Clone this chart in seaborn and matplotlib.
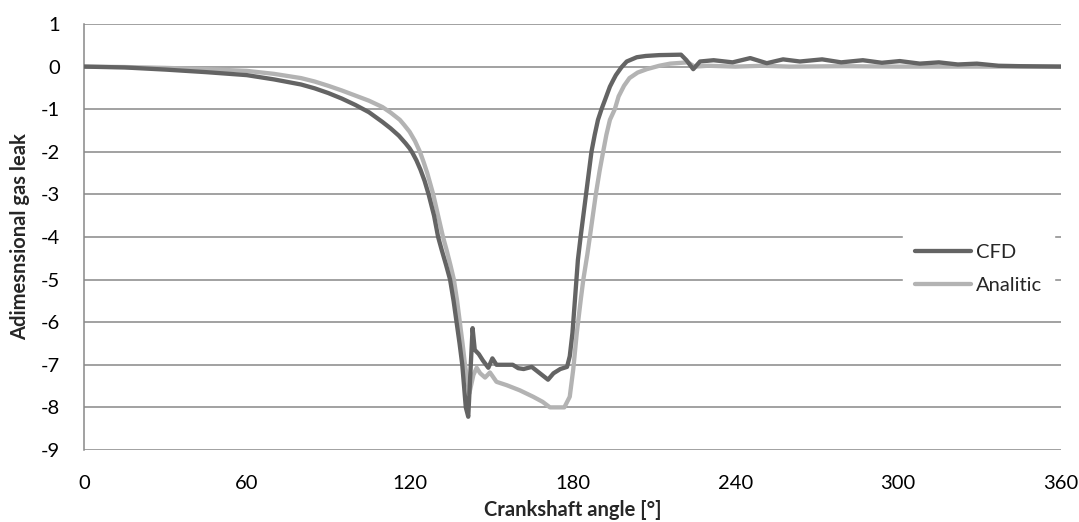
import pandas as pd
import matplotlib.pyplot as plt
import seaborn as sns

# 读图估计的数据
cfd_angle = [0, 15, 30, 45, 60, 70, 80, 85, 90, 95, 100, 105, 110, 113, 116, 118.5, 120,
             121, 122.5, 124, 125.5, 127, 128, 129, 130.5, 131.8, 133.4, 134.9, 136.2,
             137.3, 138.4, 139.4, 140.7, 141.6, 143.2, 144, 145.5, 147, 149, 150.5, 152,
             155, 158, 160, 162, 165, 168, 171, 173, 175.5, 178, 179, 180, 181, 182, 183,
             184, 185, 186, 187, 188.2, 189.4, 190.7, 192, 193.8, 195, 196, 198, 200,
             203.7, 207, 212, 220, 222, 224.5, 227, 232, 239, 245.5, 251.6, 257.6, 263.8,
             272, 279, 287, 294, 300.6, 308, 315, 322, 329, 337, 345, 360]
cfd_leak = [0, -0.02, -0.07, -0.13, -0.2, -0.3, -0.42, -0.51, -0.62, -0.75, -0.9, -1.07,
            -1.3, -1.45, -1.62, -1.8, -1.92, -2.02, -2.2, -2.42, -2.68, -3.0, -3.25, -3.5,
            -4.0, -4.3, -4.65, -5.0, -5.5, -6.0, -6.5, -7.0, -8.0, -8.22, -6.14, -6.65,
            -6.75, -6.9, -7.07, -6.85, -7.0, -7.0, -7.0, -7.08, -7.1, -7.05, -7.2, -7.35,
            -7.2, -7.1, -7.05, -6.8, -6.25, -5.4, -4.54, -4.0, -3.5, -3.0, -2.5, -2.0,
            -1.6, -1.25, -1.0, -0.78, -0.47, -0.32, -0.2, -0.02, 0.12, 0.22, 0.25, 0.27,
            0.28, 0.15, -0.06, 0.12, 0.15, 0.1, 0.2, 0.08, 0.17, 0.12, 0.17, 0.1, 0.15,
            0.09, 0.13, 0.07, 0.1, 0.05, 0.07, 0.02, 0.01, 0.0]

an_angle = [0, 15, 30, 45, 60, 70, 80, 85, 90, 95, 100, 105, 110, 113, 116.4, 118, 120,
            122, 123.8, 125.2, 126.5, 127.6, 128.7, 130.5, 132.3, 133.6, 135, 136.3, 137.5,
            138.5, 139.5, 140.4, 142, 143.5, 144.7, 146, 147.8, 149.6, 152, 155.8, 160.6,
            165.5, 169, 171.7, 177, 179, 180.3, 181.6, 183, 184, 185.5, 186.4, 187.5,
            188.6, 190, 191.3, 192.5, 193.8, 195.6, 197, 199, 201, 204, 207.4, 212, 216,
            222.5, 225, 230, 240, 250, 260, 280, 300, 330, 360]
an_leak = [0, -0.01, -0.03, -0.06, -0.1, -0.17, -0.27, -0.35, -0.45, -0.56, -0.68, -0.8,
           -0.95, -1.08, -1.25, -1.37, -1.53, -1.75, -2.0, -2.25, -2.5, -2.75, -3.0, -3.5,
           -4.0, -4.3, -4.65, -5.0, -5.5, -6.0, -6.5, -7.0, -7.67, -7.24, -7.07, -7.2,
           -7.3, -7.18, -7.4, -7.48, -7.6, -7.75, -7.87, -8.0, -8.0, -7.75, -7.1, -6.25,
           -5.5, -5.0, -4.4, -4.0, -3.5, -3.0, -2.45, -2.0, -1.6, -1.25, -1.0, -0.7,
           -0.45, -0.27, -0.14, -0.06, 0.02, 0.07, 0.1, 0.0, 0.02, 0.0, 0.02, 0.0, 0.01,
           0.0, 0.0, 0.0]

x_ticks = [0, 60, 120, 180, 240, 300, 360]
y_ticks = list(range(-9, 2))

df = pd.concat([
    pd.DataFrame({'angle': cfd_angle, 'leak': cfd_leak, 'series': 'CFD'}),
    pd.DataFrame({'angle': an_angle, 'leak': an_leak, 'series': 'Analitic'}),
])

sns.set_style('white')
plt.rcParams['font.family'] = ['Lato', 'DejaVu Sans']
plt.rcParams['axes.unicode_minus'] = False

fig = plt.figure(figsize=(10.79, 5.22), dpi=100)
ax = fig.add_axes([0.0778, 0.138, 0.9055, 0.816])

sns.lineplot(data=df, x='angle', y='leak', hue='series', sort=False,
             palette={'CFD': '#646464', 'Analitic': '#b3b3b3'},
             hue_order=['Analitic', 'CFD'], linewidth=3.1, ax=ax, legend=False,
             solid_joinstyle='round', solid_capstyle='round')
# CFD 画在上面
ax.lines[0].set_zorder(2)
ax.lines[1].set_zorder(3)

ax.set_xlim(0, 360)
ax.set_ylim(-9, 1)
ax.set_xticks(x_ticks)
ax.set_yticks(y_ticks)
ax.grid(axis='y', color='#888888', linewidth=1.1)
ax.grid(axis='x', visible=False)
ax.set_axisbelow(True)
for s in ['top', 'right', 'bottom']:
    ax.spines[s].set_visible(False)
ax.spines['left'].set_color('#888888')
ax.spines['left'].set_linewidth(1.1)
ax.tick_params(axis='both', length=0, labelsize=14.5, colors='black')
ax.tick_params(axis='x', pad=18)
ax.tick_params(axis='y', pad=17)

ax.set_xlabel('Crankshaft angle [°]', fontsize=14.5, fontweight='bold', labelpad=6)
ax.set_ylabel('Adimesnsional gas leak', fontsize=14.5, fontweight='bold', labelpad=8)

handles = [plt.Line2D([], [], color='#646464', linewidth=3.1, solid_capstyle='round'),
           plt.Line2D([], [], color='#b3b3b3', linewidth=3.1, solid_capstyle='round')]
leg = fig.legend(handles, ['CFD', 'Analitic'], loc='center left',
                 bbox_to_anchor=(0.837, 0.485), frameon=True, fontsize=14.5,
                 handlelength=2.75, handletextpad=0.25, labelspacing=0.8,
                 borderpad=0.6, borderaxespad=0)
leg.get_frame().set_facecolor('white')
leg.get_frame().set_edgecolor('white')
leg.get_frame().set_alpha(1)

fig.savefig('out.png', dpi=100)
